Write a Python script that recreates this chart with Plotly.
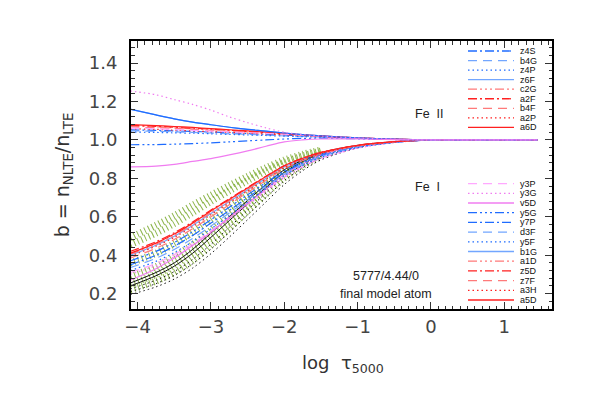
import plotly.graph_objects as go

# ---------------- data ----------------
LOGTAU = [-4.1, -3.75, -3.5, -3.25, -3.0, -2.75, -2.5, -2.25, -2.0, -1.75, -1.5, -1.0, -0.5, 0.0, 0.5, 1.45]
LOGTAU_G = LOGTAU[:11]   # green hatched levels plotted up to log tau = -1.5

# Fe II departure coefficients
fe2_top_dot   = [1.255, 1.235, 1.21, 1.185, 1.155, 1.12, 1.09, 1.063, 1.04, 1.028, 1.02, 1.01, 1.004, 1.0, 1.0, 1.0]
fe2_z6F       = [1.16, 1.13, 1.11, 1.093, 1.079, 1.066, 1.055, 1.046, 1.036, 1.028, 1.021, 1.011, 1.004, 1.0, 1.0, 1.0]
fe2_a6D       = [1.08, 1.075, 1.07, 1.065, 1.059, 1.053, 1.047, 1.041, 1.034, 1.027, 1.021, 1.011, 1.004, 1.0, 1.0, 1.0]
fe2_a2F       = [1.076, 1.071, 1.066, 1.061, 1.056, 1.05, 1.044, 1.038, 1.032, 1.026, 1.02, 1.01, 1.004, 1.0, 1.0, 1.0]
fe2_c2G       = [1.072, 1.068, 1.063, 1.058, 1.053, 1.048, 1.042, 1.036, 1.031, 1.025, 1.02, 1.01, 1.004, 1.0, 1.0, 1.0]
fe2_b4F       = [1.068, 1.064, 1.06, 1.055, 1.05, 1.045, 1.04, 1.035, 1.03, 1.025, 1.019, 1.01, 1.004, 1.0, 1.0, 1.0]
fe2_pink_dash = [1.062, 1.058, 1.054, 1.05, 1.046, 1.042, 1.038, 1.034, 1.03, 1.025, 1.02, 1.01, 1.004, 1.0, 1.0, 1.0]
fe2_a2P       = [1.058, 1.055, 1.051, 1.047, 1.043, 1.039, 1.035, 1.031, 1.027, 1.023, 1.018, 1.009, 1.003, 1.0, 1.0, 1.0]
fe2_z4S       = [1.052, 1.05, 1.047, 1.044, 1.041, 1.037, 1.033, 1.029, 1.025, 1.021, 1.017, 1.009, 1.003, 1.0, 1.0, 1.0]
fe2_b4G       = [1.047, 1.045, 1.042, 1.039, 1.036, 1.032, 1.029, 1.025, 1.021, 1.018, 1.015, 1.008, 1.003, 1.0, 1.0, 1.0]
fe2_z4P       = [1.041, 1.039, 1.037, 1.035, 1.032, 1.029, 1.026, 1.023, 1.02, 1.017, 1.014, 1.008, 1.003, 1.0, 1.0, 1.0]
fe2_low_dd    = [0.975, 0.976, 0.978, 0.981, 0.985, 0.99, 0.995, 1.0, 1.005, 1.008, 1.009, 1.006, 1.002, 1.0, 1.0, 1.0]
fe2_pink_sol  = [0.86, 0.864, 0.873, 0.888, 0.903, 0.922, 0.943, 0.967, 0.99, 1.0, 1.005, 1.005, 1.002, 1.0, 1.0, 1.0]

# Fe I departure coefficients
fe1_a5D = [0.41, 0.463, 0.51, 0.567, 0.63, 0.69, 0.75, 0.81, 0.866, 0.905, 0.935, 0.972, 0.991, 1.0, 1.0, 1.0]
fe1_z5D = [0.42, 0.47, 0.517, 0.573, 0.635, 0.694, 0.753, 0.811, 0.866, 0.905, 0.935, 0.972, 0.991, 1.0, 1.0, 1.0]
fe1_a1D = [0.405, 0.457, 0.503, 0.56, 0.622, 0.683, 0.744, 0.804, 0.861, 0.902, 0.933, 0.971, 0.991, 1.0, 1.0, 1.0]
fe1_b1G = [0.40, 0.452, 0.499, 0.555, 0.617, 0.679, 0.741, 0.801, 0.859, 0.9, 0.932, 0.97, 0.99, 1.0, 1.0, 1.0]
fe1_a3H = [0.395, 0.447, 0.493, 0.549, 0.611, 0.673, 0.735, 0.796, 0.855, 0.897, 0.93, 0.97, 0.99, 1.0, 1.0, 1.0]
fe1_z7F = [0.385, 0.436, 0.482, 0.538, 0.6, 0.663, 0.727, 0.789, 0.85, 0.893, 0.927, 0.968, 0.99, 1.0, 1.0, 1.0]
fe1_y5G = [0.37, 0.42, 0.466, 0.522, 0.585, 0.65, 0.715, 0.778, 0.84, 0.887, 0.923, 0.966, 0.989, 1.0, 1.0, 1.0]
fe1_y7P = [0.35, 0.40, 0.447, 0.503, 0.567, 0.633, 0.7, 0.766, 0.83, 0.879, 0.917, 0.964, 0.988, 1.0, 1.0, 1.0]
fe1_d3F = [0.335, 0.384, 0.43, 0.487, 0.552, 0.62, 0.688, 0.756, 0.822, 0.873, 0.913, 0.962, 0.988, 1.0, 1.0, 1.0]
fe1_y5F = [0.32, 0.368, 0.414, 0.471, 0.537, 0.606, 0.676, 0.746, 0.814, 0.867, 0.909, 0.96, 0.987, 1.0, 1.0, 1.0]
fe1_y3P = [0.31, 0.357, 0.403, 0.46, 0.527, 0.597, 0.668, 0.739, 0.809, 0.863, 0.906, 0.958, 0.987, 1.0, 1.0, 1.0]
fe1_y3G = [0.30, 0.346, 0.392, 0.45, 0.517, 0.588, 0.66, 0.732, 0.803, 0.859, 0.903, 0.957, 0.986, 1.0, 1.0, 1.0]
fe1_v5D = [0.27, 0.33, 0.385, 0.45, 0.52, 0.595, 0.67, 0.745, 0.82, 0.875, 0.92, 0.97, 0.99, 1.0, 1.0, 1.0]

# other Fe I levels (green hatched, black)
green_1 = [0.49, 0.555, 0.605, 0.66, 0.712, 0.762, 0.81, 0.855, 0.895, 0.925, 0.948]
green_2 = [0.455, 0.515, 0.565, 0.622, 0.68, 0.735, 0.788, 0.838, 0.883, 0.916, 0.942]
green_3 = [0.36, 0.41, 0.46, 0.52, 0.585, 0.65, 0.715, 0.778, 0.838, 0.885, 0.922]
green_4 = [0.29, 0.34, 0.392, 0.455, 0.53, 0.61, 0.69, 0.765, 0.838, 0.889, 0.928]
green_5 = [0.25, 0.30, 0.35, 0.415, 0.495, 0.58, 0.665, 0.748, 0.825, 0.882, 0.924]
green_6 = [0.22, 0.265, 0.31, 0.372, 0.452, 0.54, 0.63, 0.718, 0.802, 0.866, 0.914]
black_1 = [0.255, 0.31, 0.36, 0.43, 0.515, 0.6, 0.685, 0.768, 0.845, 0.895, 0.933, 0.972, 0.99, 1.0, 1.0, 1.0]
black_2 = [0.24, 0.293, 0.343, 0.41, 0.493, 0.58, 0.667, 0.752, 0.832, 0.887, 0.928, 0.97, 0.99, 1.0, 1.0, 1.0]
black_3 = [0.225, 0.27, 0.315, 0.378, 0.457, 0.545, 0.635, 0.724, 0.808, 0.87, 0.916, 0.965, 0.989, 1.0, 1.0, 1.0]
black_4 = [0.21, 0.252, 0.295, 0.355, 0.432, 0.52, 0.61, 0.7, 0.788, 0.855, 0.906, 0.962, 0.988, 1.0, 1.0, 1.0]
black_5 = [0.195, 0.235, 0.276, 0.333, 0.408, 0.494, 0.585, 0.677, 0.768, 0.84, 0.896, 0.958, 0.987, 1.0, 1.0, 1.0]

FE2_LABELS = ["z4S", "b4G", "z4P", "z6F", "c2G", "a2F", "b4F", "a2P", "a6D"]
FE1_LABELS = ["y3P", "y3G", "v5D", "y5G", "y7P", "d3F", "y5F", "b1G", "a1D", "z5D", "z7F", "a3H", "a5D"]

# ---------------- styles ----------------
BLUE, LBLUE = "#1f6cff", "#72a6ff"
RED, SALMON = "#ff2020", "#ff7a7a"
PINK, LPINK = "#f07cf0", "#ffa8ff"
GREEN, BLACK = "#78a82a", "#111111"

SOLID = "solid"
DOT = "1.5px,3px"
DASH = "9px,6px"
DASHDOT = "9px,3px,2px,3px"
DASH3DOT = "9px,3px,2px,3px,2px,3px,2px,3px"

FE2_STYLE = {"z4S": (BLUE, DASHDOT), "b4G": (LBLUE, DASH), "z4P": (BLUE, DOT), "z6F": (LBLUE, SOLID),
             "c2G": (SALMON, DASH3DOT), "a2F": (RED, DASHDOT), "b4F": (SALMON, DASH), "a2P": (RED, DOT),
             "a6D": (RED, SOLID)}
FE1_STYLE = {"y3P": (LPINK, DASH), "y3G": (PINK, DOT), "v5D": (PINK, SOLID), "y5G": (BLUE, DASH3DOT),
             "y7P": (BLUE, DASHDOT), "d3F": (LBLUE, DASH), "y5F": (BLUE, DOT), "b1G": (LBLUE, SOLID),
             "a1D": (SALMON, DASH3DOT), "z5D": (RED, DASHDOT), "z7F": (SALMON, DASH), "a3H": (RED, DOT),
             "a5D": (RED, SOLID)}

fig = go.Figure()


def add(y, color, dash, width=1.2, opacity=1.0, x=LOGTAU):
    fig.add_trace(go.Scatter(x=x, y=y, mode="lines", opacity=opacity,
                             line=dict(color=color, dash=dash, width=width, shape="spline", smoothing=0.9),
                             showlegend=False, hoverinfo="skip"))


# green hatched bands
for g in [green_1, green_2, green_3, green_4, green_5, green_6]:
    add(g, GREEN, "1px,3px", width=7, opacity=0.85, x=LOGTAU_G)
# black levels
for b in [black_3, black_4, black_5]:
    add(b, BLACK, DOT, width=1)
for b in [black_1, black_2]:
    add(b, BLACK, SOLID, width=1)

# Fe I
fe1_data = {"y3P": fe1_y3P, "y3G": fe1_y3G, "v5D": fe1_v5D, "y5G": fe1_y5G, "y7P": fe1_y7P, "d3F": fe1_d3F,
            "y5F": fe1_y5F, "b1G": fe1_b1G, "a1D": fe1_a1D, "z5D": fe1_z5D, "z7F": fe1_z7F, "a3H": fe1_a3H,
            "a5D": fe1_a5D}
for lab in FE1_LABELS:
    c, d = FE1_STYLE[lab]
    add(fe1_data[lab], c, d)

# Fe II
fe2_data = {"z4S": fe2_z4S, "b4G": fe2_b4G, "z4P": fe2_z4P, "z6F": fe2_z6F, "c2G": fe2_c2G,
            "a2F": fe2_a2F, "b4F": fe2_b4F, "a2P": fe2_a2P, "a6D": fe2_a6D}
for lab in FE2_LABELS:
    c, d = FE2_STYLE[lab]
    add(fe2_data[lab], c, d)
add(fe2_low_dd, BLUE, DASH3DOT)
add(fe2_pink_dash, LPINK, DASH)
add(fe2_z6F, BLUE, SOLID)
add(fe2_top_dot, PINK, DOT)
add(fe2_pink_sol, PINK, SOLID)

# ---------------- layout (window pixel coords; page body has an 8px margin) ----------------
OFF = 8
W, H = 591, 393
L, R, T, B = 131, 552, 41, 309


def px(xp):
    return (xp - L) / (R - L)


def py(yp):
    return (B - yp) / (B - T)


shapes, annots = [], []


def legend(labels, styles, y0, step):
    for i, lab in enumerate(labels):
        c, d = styles[lab]
        yy = py(y0 + i * step)
        shapes.append(dict(type="line", xref="paper", yref="paper", x0=px(468), x1=px(514), y0=yy, y1=yy,
                           line=dict(color=c, dash=d, width=1.3)))
        annots.append(dict(xref="paper", yref="paper", x=px(518), y=yy, text=lab, showarrow=False,
                           xanchor="left", yanchor="middle",
                           font=dict(family="Liberation Sans", size=9, color="#111")))


legend(FE2_LABELS, FE2_STYLE, 51, 9.55)
legend(FE1_LABELS, FE1_STYLE, 183.6, 9.7)

txt_font = dict(family="Liberation Sans", size=12.5, color="#222")


def note(x, y, text, font):
    return dict(xref="paper", yref="paper", x=px(x), y=py(y), text=text, showarrow=False,
                xanchor="center", yanchor="middle", font=font)


annots += [
    note(429, 113.5, "Fe  II", txt_font),
    note(427, 187, "Fe  I", txt_font),
    note(386, 276, "5777/4.44/0", txt_font),
    note(386, 294, "final model atom", txt_font),
    note(343, 364, "log  τ<sub>5000</sub>", dict(family="DejaVu Sans", size=18, color="#333")),
]

axis_common = dict(showline=True, linewidth=2, linecolor="black", mirror="allticks", ticks="inside",
                   tickcolor="#333", tickwidth=1, ticklen=7, showgrid=False, zeroline=False,
                   tickfont=dict(family="DejaVu Sans", size=18, color="#444"))

fig.update_layout(
    width=W - OFF, height=H - OFF,
    margin=dict(l=L - OFF, r=W - R, t=T - OFF, b=H - B, autoexpand=False),
    paper_bgcolor="white", plot_bgcolor="white", showlegend=False,
    shapes=shapes, annotations=annots,
    xaxis=dict(range=[-4.09, 1.65], tickmode="array", tickvals=[-4, -3, -2, -1, 0, 1],
               minor=dict(ticks="inside", ticklen=3.5, dtick=0.1, tickcolor="#333"), **axis_common),
    yaxis=dict(range=[0.12, 1.515], tickmode="array", tickvals=[0.2, 0.4, 0.6, 0.8, 1.0, 1.2, 1.4],
               tickformat=".1f", ticklabelstandoff=8,
               title=dict(text="b = n<sub>NLTE</sub>/n<sub>LTE</sub>", standoff=14,
                          font=dict(family="DejaVu Sans", size=19, color="#333")),
               minor=dict(ticks="inside", ticklen=3.5, dtick=0.04, tick0=0.2, tickcolor="#333"), **axis_common),
)

fig.write_html("out.html")
